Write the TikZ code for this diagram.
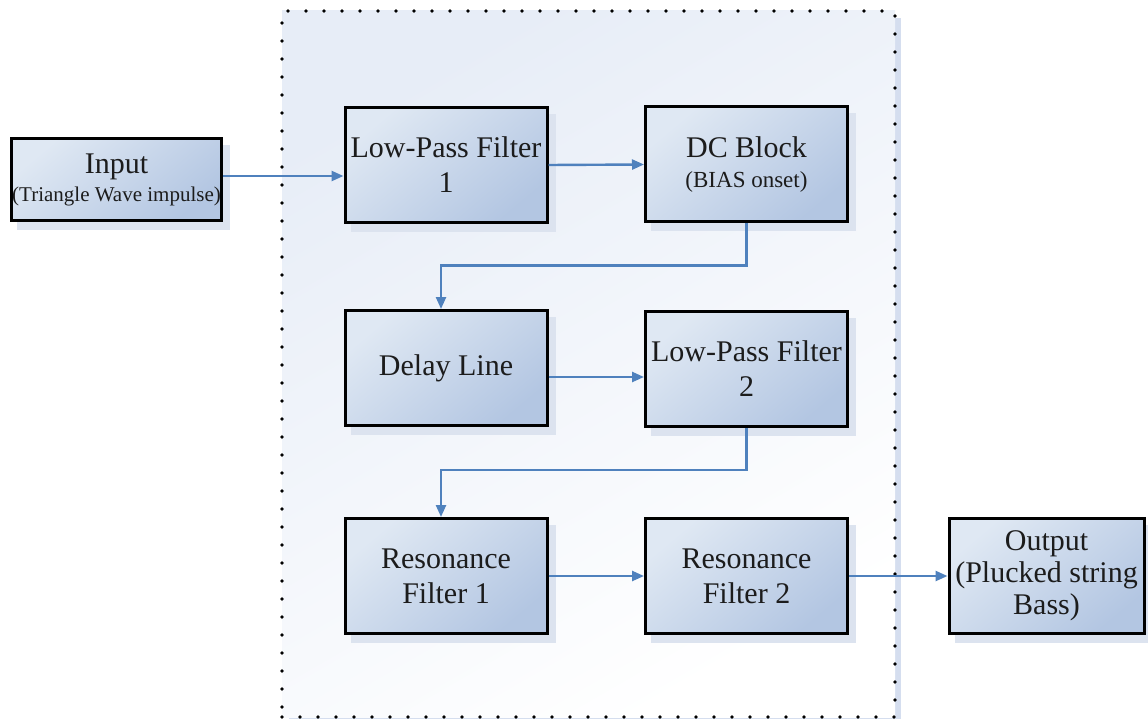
\documentclass[tikz,border=0pt]{standalone}
\usepackage{fontspec}
\setmainfont{Liberation Serif}
\usetikzlibrary{arrows.meta,calc}

\definecolor{boxtop}{HTML}{DFE8F3}
\definecolor{boxbot}{HTML}{B3C6E2}
\definecolor{boxshadow}{HTML}{DCE3EF}
\definecolor{wire}{HTML}{4F81BD}
\definecolor{frametop}{HTML}{E7EDF7}
\definecolor{framemid}{HTML}{F9FAFD}
\definecolor{frameshadow}{HTML}{D5DEEF}
\definecolor{ink}{HTML}{1C1C1C}

% a block: shadow first, then the shaded box with its text
% [#1] extra options, #2 name, #3 x, #4 y (centre), #5 width, #6 height, #7 text
\newcommand{\blk}[7][]{%
  \fill[boxshadow] (#3-#5/2+7,#4-#6/2+8) rectangle (#3+#5/2+7,#4+#6/2+8);
  \node[block, minimum width=#5-3, minimum height=#6-3, #1] (#2) at (#3,#4) {#7};
}

\begin{document}
\begin{tikzpicture}[x=1pt,y=-1pt,
  block/.style={rectangle, draw=black, line width=3pt,
    top color=boxtop, bottom color=boxbot, shading angle=40,
    inner sep=0pt, align=center, text=ink,
    font=\fontsize{30}{35}\selectfont},
  group/.style={rectangle, draw=black, line width=3.6pt,
    dash pattern=on 0pt off 18pt, line cap=round,
    top color=frametop, middle color=framemid, bottom color=white,
    shading angle=30, inner sep=0pt},
  conn/.style={draw=wire, line width=2.4pt,
    -{Triangle[length=12pt,width=10pt]}}]

% page
\fill[white] (0,0) rectangle (1148,719);
\useasboundingbox (0,0) rectangle (1148,719);

% dotted group frame with its shadow
\fill[frameshadow] (289,18) rectangle (901,719);
\node[group, minimum width=613, minimum height=706] (grp) at (588.5,364) {};

% blocks
\blk{in}{116.5}{179.5}{213}{85}{Input\\[-7pt]{\fontsize{21}{25}\selectfont (Triangle Wave impulse)}}
\blk{lpf1}{446}{165}{205}{118}{Low-Pass Filter\\1}
\blk{dc}{746.5}{164.5}{205}{118}{DC Block\\[-5pt]{\fontsize{23}{27}\selectfont (BIAS onset)}}
\blk{delay}{446}{368}{205}{118}{Delay Line}
\blk{lpf2}{746.5}{369}{205}{118}{Low-Pass Filter\\2}
\blk{rf1}{446}{576}{205}{118}{Resonance\\Filter 1}
\blk{rf2}{746.5}{576}{205}{118}{Resonance\\Filter 2}
\blk[font=\fontsize{30}{32}\selectfont]{out}{1046.5}{576}{198}{118}{Output\\(Plucked string\\Bass)}

% connectors
\coordinate (a1) at ([yshift=-11pt]lpf1.west);
\draw[conn] (in.east |- a1) -- (a1);
\draw[conn] (lpf1.east) -- (dc.west);
\draw[conn] (dc.south) -- ++(0,42) -| ([xshift=-5pt]delay.north);
\coordinate (a2) at ([yshift=-9pt]delay.east);
\draw[conn] (a2) -- (a2 -| lpf2.west);
\draw[conn] (lpf2.south) -- ++(0,42) -| ([xshift=-5pt]rf1.north);
\draw[conn] (rf1.east) -- (rf1.east -| rf2.west);
\draw[conn] (rf2.east) -- (rf2.east -| out.west);
\end{tikzpicture}
\end{document}
